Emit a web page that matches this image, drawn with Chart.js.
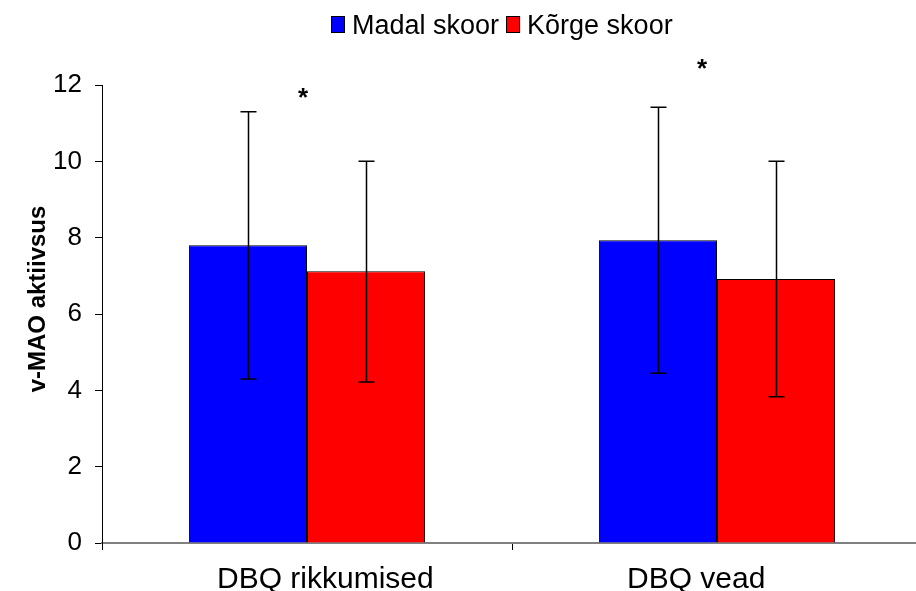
<!DOCTYPE html>
<html>
<head>
<meta charset="utf-8">
<script src="https://cdn.jsdelivr.net/npm/chart.js@4.4.1/dist/chart.umd.min.js"></script>
<style>
  html, body { margin: 0; padding: 0; background: #ffffff; overflow: hidden; width: 916px; height: 591px; }
  canvas { display: block; }
</style>
</head>
<body>
<canvas id="chart" width="930" height="591"></canvas>
<script>
// Categories and series
const categories = ['DBQ rikkumised', 'DBQ vead'];
const seriesNames = ['Madal skoor', 'Kõrge skoor'];
const seriesColors = ['#0000FF', '#FF0000'];

// Mean v-MAO activity per group
const madalSkoor = [7.8, 7.93];
const korgeSkoor = [7.12, 6.92];

// Error bar ends (upper / lower) per group
const madalUpper = [11.3, 11.42];
const madalLower = [4.3, 4.45];
const korgeUpper = [10.0, 10.0];
const korgeLower = [4.22, 3.83];

// Significance marks drawn above each category
const starLabels = ['*', '*'];
const starValues = [11.75, 12.5];

// Y axis tick labels and title
const yTicks = [0, 2, 4, 6, 8, 10, 12];
const yTitle = 'v-MAO aktiivsus';

const FONT = "'Liberation Sans', Arial, Helvetica, sans-serif";
const upperBounds = [madalUpper, korgeUpper];
const lowerBounds = [madalLower, korgeLower];

const errorBars = {
  id: 'errorBars',
  afterDatasetsDraw(chart) {
    const ctx = chart.ctx;
    const y = chart.scales.y;
    ctx.save();
    ctx.strokeStyle = '#000000';
    ctx.lineWidth = 1.5;
    chart.data.datasets.forEach((ds, i) => {
      const meta = chart.getDatasetMeta(i);
      meta.data.forEach((bar, j) => {
        const x = Math.round(bar.x) + 0.5;
        const yt = y.getPixelForValue(upperBounds[i][j]);
        const yb = y.getPixelForValue(lowerBounds[i][j]);
        ctx.beginPath();
        ctx.moveTo(x, yt); ctx.lineTo(x, yb);
        ctx.moveTo(x - 8, yt); ctx.lineTo(x + 8, yt);
        ctx.moveTo(x - 8, yb); ctx.lineTo(x + 8, yb);
        ctx.stroke();
      });
    });
    ctx.restore();
  }
};

const annotations = {
  id: 'annotations',
  afterDraw(chart) {
    const ctx = chart.ctx;
    const xs = chart.scales.x;
    const ys = chart.scales.y;
    ctx.save();
    ctx.fillStyle = '#000000';

    // significance stars
    const starShift = [-4, -15];
    ctx.font = 'bold 26px ' + FONT;
    ctx.textAlign = 'center';
    ctx.textBaseline = 'middle';
    starLabels.forEach((s, i) => {
      ctx.fillText(s, xs.getPixelForValue(i) + starShift[i], ys.getPixelForValue(starValues[i]) + 4);
    });

    // y axis title, rotated
    ctx.save();
    ctx.translate(38, 299);
    ctx.rotate(-Math.PI / 2);
    ctx.font = 'bold 24px ' + FONT;
    ctx.textAlign = 'center';
    ctx.textBaseline = 'middle';
    ctx.fillText(yTitle, 0, 0);
    ctx.restore();

    // category labels, left-aligned from a point left of each group centre
    ctx.font = '30px ' + FONT;
    ctx.textAlign = 'left';
    ctx.textBaseline = 'alphabetic';
    categories.forEach((c, i) => {
      ctx.fillText(c, xs.getPixelForValue(i) - 90, 588);
    });

    // legend
    ctx.font = '27px ' + FONT;
    ctx.textBaseline = 'alphabetic';
    let lx = 331;
    seriesNames.forEach((name, i) => {
      ctx.fillStyle = seriesColors[i];
      ctx.fillRect(lx, 16, 14, 17);
      ctx.strokeStyle = '#000000';
      ctx.lineWidth = 1;
      ctx.strokeRect(lx + 0.5, 16.5, 13, 16);
      ctx.fillStyle = '#000000';
      ctx.fillText(name, lx + 21, 34);
      lx += 21 + ctx.measureText(name).width + 7;
    });
    ctx.restore();
  }
};

new Chart(document.getElementById('chart'), {
  type: 'bar',
  data: {
    labels: categories,
    datasets: [
      { label: seriesNames[0], data: madalSkoor, backgroundColor: seriesColors[0], borderColor: '#000000', borderWidth: 1 },
      { label: seriesNames[1], data: korgeSkoor, backgroundColor: seriesColors[1], borderColor: '#000000', borderWidth: 1 }
    ]
  },
  options: {
    responsive: false,
    animation: false,
    devicePixelRatio: 1,
    layout: { padding: { left: 0, right: 8, top: 85, bottom: 0 } },
    datasets: { bar: { categoryPercentage: 0.576, barPercentage: 1.0 } },
    plugins: { legend: { display: false }, tooltip: { enabled: false } },
    scales: {
      x: {
        afterFit(scale) { scale.height = 48; },
        grid: { offset: true, drawOnChartArea: false, drawTicks: true, tickLength: 7, color: '#000000', lineWidth: 1 },
        border: { display: true, color: '#808080', width: 2 },
        ticks: { display: false }
      },
      y: {
        min: 0,
        max: 12,
        afterFit(scale) { scale.width = 102; },
        afterBuildTicks(scale) { scale.ticks = yTicks.map(v => ({ value: v })); },
        grid: { drawOnChartArea: false, drawTicks: true, tickLength: 7, color: '#000000', lineWidth: 1 },
        border: { display: true, color: '#000000', width: 1 },
        ticks: { color: '#000000', padding: 13, font: { family: FONT, size: 26 } },
        title: { display: false }
      }
    }
  },
  plugins: [errorBars, annotations]
});
</script>
</body>
</html>
